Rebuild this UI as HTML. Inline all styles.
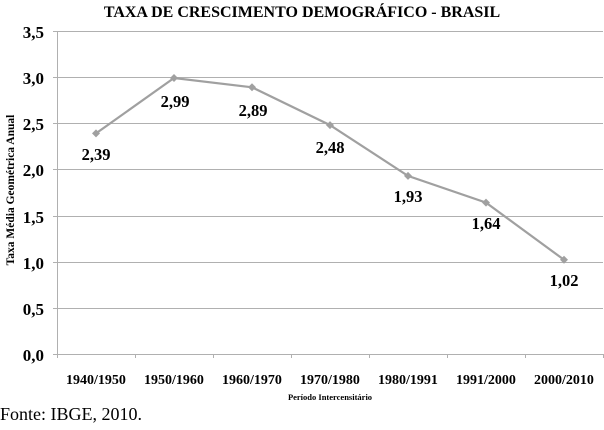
<!DOCTYPE html>
<html><head><meta charset="utf-8"><style>
body{margin:0;background:#fff;width:604px;height:425px;overflow:hidden}
svg text{font-family:"Liberation Serif",serif;font-weight:bold;fill:#000}
</style></head><body>
<svg width="604" height="425" xmlns="http://www.w3.org/2000/svg">
<text x="302" y="17" text-anchor="middle" font-size="16">TAXA DE CRESCIMENTO DEMOGRÁFICO - BRASIL</text>
<g stroke="#b0b0b0" stroke-width="1">
<line x1="57" y1="31.5" x2="603" y2="31.5"/>
<line x1="57" y1="77.5" x2="603" y2="77.5"/>
<line x1="57" y1="123.5" x2="603" y2="123.5"/>
<line x1="57" y1="169.5" x2="603" y2="169.5"/>
<line x1="57" y1="216.5" x2="603" y2="216.5"/>
<line x1="57" y1="262.5" x2="603" y2="262.5"/>
<line x1="57" y1="308.5" x2="603" y2="308.5"/>
<line x1="57" y1="354.5" x2="603" y2="354.5"/>
<line x1="57.5" y1="31" x2="57.5" y2="358"/>
<line x1="53" y1="31.5" x2="57" y2="31.5"/><line x1="53" y1="77.5" x2="57" y2="77.5"/><line x1="53" y1="123.5" x2="57" y2="123.5"/><line x1="53" y1="169.5" x2="57" y2="169.5"/><line x1="53" y1="216.5" x2="57" y2="216.5"/><line x1="53" y1="262.5" x2="57" y2="262.5"/><line x1="53" y1="308.5" x2="57" y2="308.5"/><line x1="53" y1="354.5" x2="57" y2="354.5"/>
<line x1="135.5" y1="354" x2="135.5" y2="358"/><line x1="213.5" y1="354" x2="213.5" y2="358"/><line x1="291.5" y1="354" x2="291.5" y2="358"/><line x1="369.5" y1="354" x2="369.5" y2="358"/><line x1="447.5" y1="354" x2="447.5" y2="358"/><line x1="525.5" y1="354" x2="525.5" y2="358"/><line x1="603.5" y1="354" x2="603.5" y2="358"/>
</g>
<g font-size="17" text-anchor="end">
<text x="44" y="38">3,5</text><text x="44" y="84">3,0</text><text x="44" y="130">2,5</text><text x="44" y="176">2,0</text><text x="44" y="223">1,5</text><text x="44" y="269">1,0</text><text x="44" y="315">0,5</text><text x="44" y="361">0,0</text>
</g>
<text transform="translate(14,190) rotate(-90)" text-anchor="middle" font-size="11.5">Taxa  Média  Geométrica Anual</text>
<g font-size="14" text-anchor="middle">
<text x="96" y="384">1940/1950</text><text x="174" y="384">1950/1960</text><text x="252" y="384">1960/1970</text><text x="330" y="384">1970/1980</text><text x="408" y="384">1980/1991</text><text x="486" y="384">1991/2000</text><text x="564" y="384">2000/2010</text>
</g>
<text x="330" y="400" text-anchor="middle" font-size="8.5">Período Intercensitário</text>
<polyline fill="none" stroke="#a0a0a0" stroke-width="2.2" points="96,133.4 174,78 252,87.3 330,125.1 408,175.9 486,202.6 564,259.8"/>
<g fill="#a0a0a0">
<path d="M96,129.4 L100,133.4 96,137.4 92,133.4Z"/><path d="M174,74 L178,78 174,82 170,78Z"/><path d="M252,83.3 L256,87.3 252,91.3 248,87.3Z"/><path d="M330,121.1 L334,125.1 330,129.1 326,125.1Z"/><path d="M408,171.9 L412,175.9 408,179.9 404,175.9Z"/><path d="M486,198.6 L490,202.6 486,206.6 482,202.6Z"/><path d="M564,255.8 L568,259.8 564,263.8 560,259.8Z"/>
</g>
<g font-size="16.5" text-anchor="middle">
<text x="96" y="160">2,39</text><text x="175" y="107">2,99</text><text x="253" y="116">2,89</text><text x="330" y="153">2,48</text><text x="408" y="202">1,93</text><text x="486" y="229">1,64</text><text x="564" y="286">1,02</text>
</g>
<text x="0" y="420" font-size="18" style="font-weight:normal">Fonte: IBGE, 2010.</text>
</svg>
</body></html>
